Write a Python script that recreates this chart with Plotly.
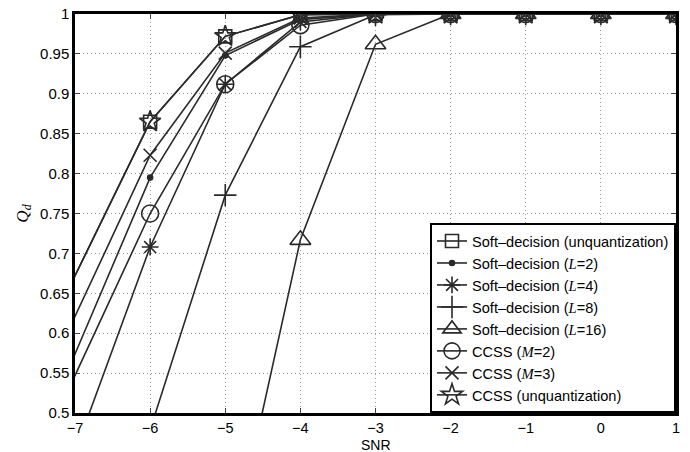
import plotly.graph_objects as go

snr = [-8, -6, -5, -4, -3, -2, -1, 0, 1]

soft_unq = [0.479, 0.865, 0.972, 0.999, 1.0, 1.0, 1.0, 1.0, 1.0]
soft_l2 = [0.353, 0.795, 0.948, 0.993, 1.0, 1.0, 1.0, 1.0, 1.0]
soft_l4 = [0.194, 0.708, 0.912, 0.990, 1.0, 1.0, 1.0, 1.0, 1.0]
soft_l8 = [0.05, 0.479, 0.773, 0.959, 0.999, 1.0, 1.0, 1.0, 1.0]
soft_l16 = [0.02, 0.10, 0.29, 0.717, 0.962, 1.0, 1.0, 1.0, 1.0]
ccss_m2 = [0.344, 0.750, 0.912, 0.986, 1.0, 1.0, 1.0, 1.0, 1.0]
ccss_m3 = [0.419, 0.823, 0.951, 0.995, 1.0, 1.0, 1.0, 1.0, 1.0]
ccss_unq = [0.479, 0.865, 0.972, 0.999, 1.0, 1.0, 1.0, 1.0, 1.0]

x_ticks = [-7, -6, -5, -4, -3, -2, -1, 0, 1]

LS = "<span style='font-family:Liberation Serif'><i>L</i></span>"
MS = "<span style='font-family:Liberation Serif'><i>M</i></span>"
names = [
    "Soft–decision (unquantization)",
    f"Soft–decision ({LS}=2)",
    f"Soft–decision ({LS}=4)",
    f"Soft–decision ({LS}=8)",
    f"Soft–decision ({LS}=16)",
    f"CCSS ({MS}=2)",
    f"CCSS ({MS}=3)",
    "CCSS (unquantization)",
]
series = [soft_unq, soft_l2, soft_l4, soft_l8, soft_l16, ccss_m2, ccss_m3, ccss_unq]
symbols = ["square-open", "circle", "asterisk-open", "cross-thin-open",
           "triangle-up-open", "circle-open", "x-thin-open", "star-open"]
sizes = [13, 5, 14, 16, 18, 17, 13, 16]

col = "#2a2a2a"
fig = go.Figure()
for nm, ys, sym, sz in zip(names, series, symbols, sizes):
    fig.add_trace(go.Scatter(
        x=snr, y=ys, name=nm, mode="lines+markers",
        line=dict(color=col, width=1.6),
        marker=dict(symbol=sym, size=sz, color=col,
                    line=dict(color=col, width=1.6)),
    ))

fig.update_layout(
    width=690, height=452,
    margin=dict(l=75, r=14, t=14, b=39),
    plot_bgcolor="white", paper_bgcolor="white",
    font=dict(family="Liberation Sans, Arial, sans-serif", size=15, color="black"),
    showlegend=True,
    legend=dict(x=1, y=0, xanchor="right", yanchor="bottom",
                bordercolor="black", borderwidth=2, bgcolor="white",
                font=dict(size=14.6), tracegroupgap=0),
    annotations=[dict(text="SNR", xref="paper", yref="paper", x=0.5, y=-0.080,
                      xanchor="center", yanchor="middle", showarrow=False,
                      font=dict(size=14))],
)
fig.update_xaxes(
    range=[-7, 1], tickvals=x_ticks, ticks="inside", ticklen=5,
    tickfont=dict(size=14.5),
    showline=True, linecolor="black", linewidth=2.5, mirror="ticks",
    showgrid=True, gridcolor="#999999", griddash="1px,3px", gridwidth=1,
    zeroline=False, automargin=False,
)
fig.update_yaxes(
    range=[0.5, 1], dtick=0.05, ticks="inside", ticklen=5,
    showline=True, linecolor="black", linewidth=2.5, mirror="ticks",
    showgrid=True, gridcolor="#999999", griddash="1px,3px", gridwidth=1,
    zeroline=False, automargin=False,
    title=dict(text="<i>Q</i><sub><i>d</i></sub>", standoff=8,
               font=dict(family="Liberation Serif, Times New Roman, serif", size=17)),
)
fig.write_html("out.html")
